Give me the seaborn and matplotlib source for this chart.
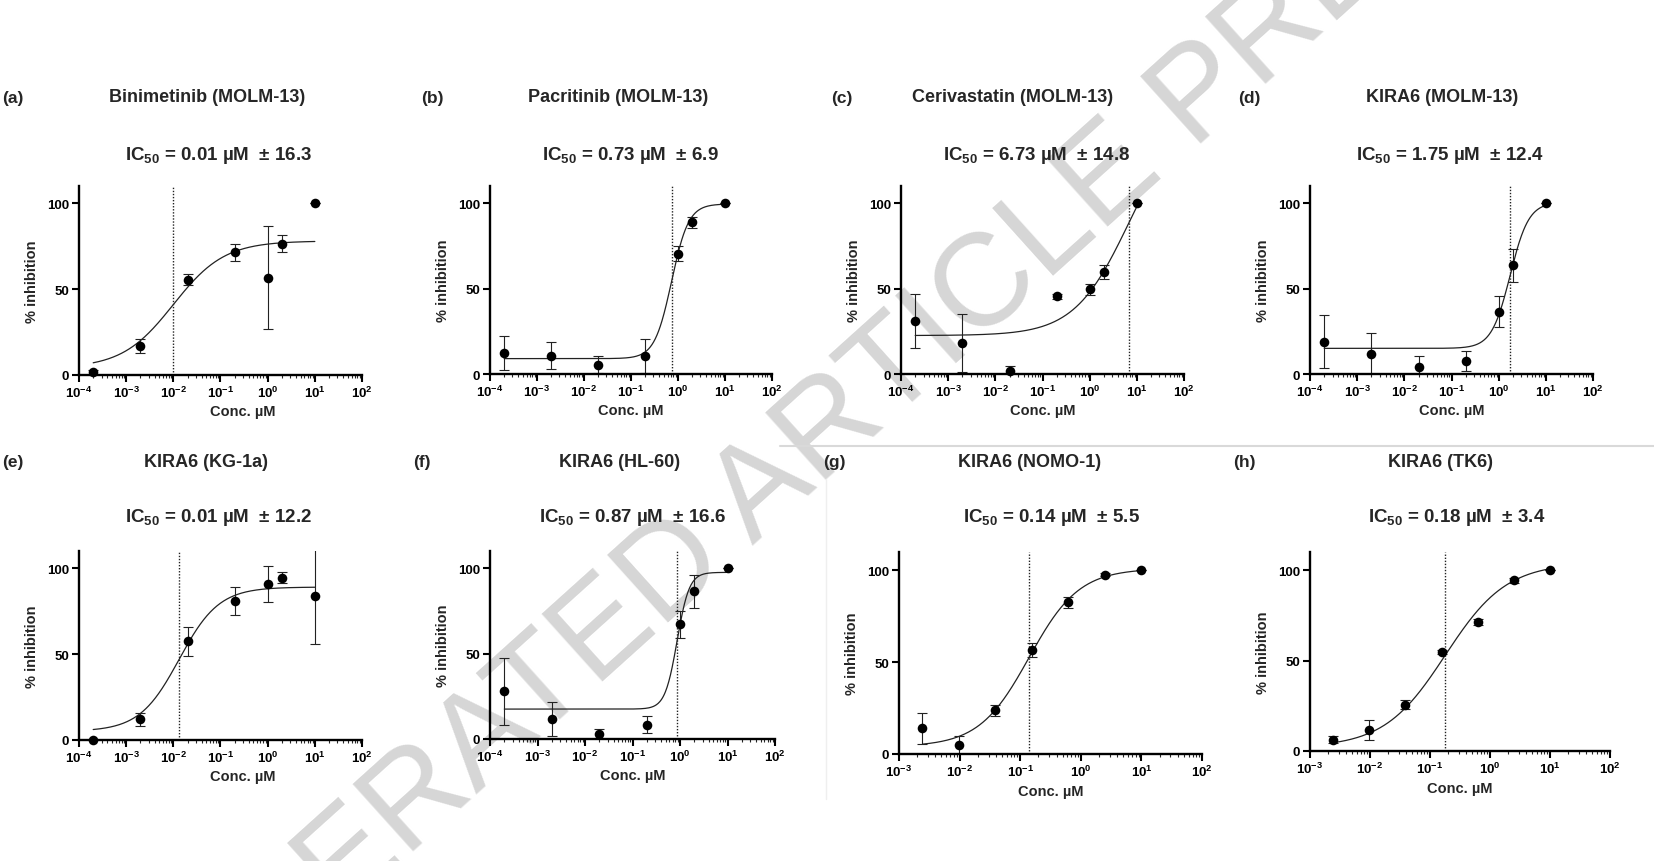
import numpy as np
import pandas as pd
import matplotlib
import matplotlib.pyplot as plt
import seaborn as sns
from matplotlib.lines import Line2D
from matplotlib.ticker import FixedLocator, LogLocator, FuncFormatter, NullFormatter

matplotlib.use('Agg')

# panel texts
panel_tags = ["(a)", "(b)", "(c)", "(d)", "(e)", "(f)", "(g)", "(h)"]
drug_titles = ["Binimetinib (MOLM-13)", "Pacritinib (MOLM-13)", "Cerivastatin (MOLM-13)",
               "KIRA6 (MOLM-13)", "KIRA6 (KG-1a)", "KIRA6 (HL-60)", "KIRA6 (NOMO-1)", "KIRA6 (TK6)"]
ic50_labels = ["0.01", "0.73", "6.73", "1.75", "0.01", "0.87", "0.14", "0.18"]
sd_labels = ["16.3", "6.9", "14.8", "12.4", "12.2", "16.6", "5.5", "3.4"]

# concentrations (uM)
conc_10fold = [2e-4, 2e-3, 2e-2, 0.2, 1, 2, 10]
conc_4fold = [0.00244, 0.0098, 0.039, 0.156, 0.625, 2.5, 10]

# mean % inhibition and error per panel
resp_a = [1.5, 17, 55.5, 71.5, 56.5, 76.5, 100]
err_a = [1.5, 4, 3, 5, 30, 5, 0]
resp_b = [12.3, 10.7, 5.3, 10.7, 70.5, 88.7, 100]
err_b = [10, 8, 5, 10, 4.5, 3, 0]
resp_c = [31, 18, 2, 45.6, 49.5, 59.6, 100]
err_c = [16, 17, 2.5, 1.5, 3, 4, 0]
resp_d = [18.8, 11.6, 3.9, 7.7, 36.5, 63.5, 100]
err_d = [15.5, 12.5, 6.5, 6, 9, 9.5, 0]
resp_e = [0, 12, 57.4, 81, 90.9, 94.5, 83.9]
err_e = [0.5, 3.8, 8.4, 8.3, 10.6, 3, 28]
resp_f = [27.8, 11.7, 2.9, 8.3, 67, 86.4, 100]
err_f = [19.5, 10, 3, 5, 8, 9.5, 0]
resp_g = [13.9, 5, 23.9, 56.4, 82.6, 97.7, 100]
err_g = [8.3, 5, 3, 3.8, 3, 1, 0]
resp_h = [6.2, 11.7, 25.6, 54.8, 71.3, 94.3, 100]
err_h = [2, 5.6, 2.5, 1, 1.5, 1.5, 0]

# fitted 4-parameter logistic curves
fit_bottom = [4, 9, 22.5, 15, 5, 17.5, 4, 2]
fit_top = [78, 99.5, 154, 100.5, 89, 97.5, 101, 104]
fit_ic50 = [0.01, 0.73, 6.73, 1.75, 0.0133, 0.87, 0.14, 0.18]
fit_hill = [0.8, 2.4, 0.75, 2.2, 1.03, 3.4, 1.05, 0.85]

concs = [conc_10fold] * 6 + [conc_4fold] * 2
resps = [resp_a, resp_b, resp_c, resp_d, resp_e, resp_f, resp_g, resp_h]
errs = [err_a, err_b, err_c, err_d, err_e, err_f, err_g, err_h]
x_min = [1e-4] * 6 + [1e-3] * 2

sns.set_theme(style="ticks")
plt.rcParams['font.family'] = ['Liberation Sans', 'DejaVu Sans']
plt.rcParams['mathtext.fontset'] = 'custom'
plt.rcParams['mathtext.rm'] = 'Liberation Sans'
plt.rcParams['mathtext.bf'] = 'Liberation Sans:bold'
plt.rcParams['mathtext.it'] = 'Liberation Sans:italic'

W, H = 1654, 862
fig = plt.figure(figsize=(W / 100, H / 100), dpi=100)
fig.patch.set_facecolor('white')

# axes boxes in pixels: left, bottom(y of x-axis), width, height
boxes = [(79, 376, 283, 189), (490, 375, 282, 188), (901, 375, 283, 188), (1310, 375, 283, 188),
         (79, 741, 283, 189), (490, 740, 285, 188), (899, 755, 303, 202), (1310, 752, 300, 199)]
tag_pos = [(2, 98), (421, 98), (831, 98), (1238, 98), (2, 463), (413, 463), (823, 463), (1233, 463)]
title_pos = [(207, 98), (618, 98), (1013, 98), (1442, 98), (206, 463), (620, 463), (1030, 463), (1441, 463)]
ic50_pos = [(219, 156), (630, 155), (1037, 155), (1450, 155), (219, 518), (633, 517), (1051, 517), (1457, 517)]
xlabel_x = [0.58, 0.5, 0.5, 0.5, 0.58, 0.5, 0.5, 0.5]

fmt_dec = FuncFormatter(lambda v, p: r"$\mathbf{10^{%d}}$" % int(round(np.log10(v))))

for i in range(8):
    l, b, w, h = boxes[i]
    ax = fig.add_axes([l / W, 1 - b / H, w / W, h / H])
    ax.set_facecolor('none')
    ax.set_xscale('log')

    conc = np.array(concs[i])
    df = pd.DataFrame({'conc': conc, 'resp': resps[i], 'err': errs[i]})

    xs = np.logspace(np.log10(conc[0]), np.log10(conc[-1]), 400)
    ys = fit_bottom[i] + (fit_top[i] - fit_bottom[i]) / (1 + 10 ** ((np.log10(fit_ic50[i]) - np.log10(xs)) * fit_hill[i]))
    sns.lineplot(x=xs, y=ys, ax=ax, color='#222222', linewidth=0.9, estimator=None, sort=False)

    ax.errorbar(df['conc'], df['resp'], yerr=df['err'], fmt='none', ecolor='#222222',
                elinewidth=0.8, capsize=3.6, capthick=0.8)
    sns.scatterplot(data=df, x='conc', y='resp', ax=ax, color='black', s=48,
                    linewidth=0, zorder=4, clip_on=False)
    ax.axvline(fit_ic50[i], color='#222222', linestyle=(0, (1, 1.2)), linewidth=1.0)

    ax.set_xlim(x_min[i], 100)
    ax.set_ylim(0, 110)
    decades = [10.0 ** k for k in range(int(np.log10(x_min[i])), 3)]
    ax.xaxis.set_major_locator(FixedLocator(decades))
    ax.xaxis.set_minor_locator(LogLocator(base=10, subs=np.arange(2, 10)))
    ax.xaxis.set_major_formatter(fmt_dec)
    ax.xaxis.set_minor_formatter(NullFormatter())
    ax.set_yticks([0, 50, 100])
    ax.set_yticklabels(['0', '50', '100'], fontweight='bold')

    sns.despine(ax=ax)
    for s in ['left', 'bottom']:
        ax.spines[s].set_linewidth(1.7)
        ax.spines[s].set_color('black')
    ax.tick_params(which='major', length=5, width=1.5, labelsize=9.5, pad=2, colors='black')
    ax.tick_params(which='minor', length=2.5, width=0.8)
    ax.set_xlabel("Conc. µM", fontweight='bold', fontsize=10.5, labelpad=6)
    ax.xaxis.set_label_coords(xlabel_x[i], -0.155 if i < 6 else -0.15)
    ax.set_ylabel("% inhibition", fontweight='bold', fontsize=10.5, labelpad=6)

    tx, ty = tag_pos[i]
    fig.text(tx / W, 1 - ty / H, panel_tags[i], fontsize=12.5, fontweight='bold', ha='left', va='center')
    tx, ty = title_pos[i]
    fig.text(tx / W, 1 - ty / H, drug_titles[i], fontsize=13, fontweight='bold', ha='center', va='center')
    tx, ty = ic50_pos[i]
    fig.text(tx / W, 1 - ty / H, r"$\mathbf{IC_{50}}$ = " + ic50_labels[i] + " µM  ± " + sd_labels[i],
             fontsize=13.5, fontweight='bold', ha='center', va='center')

# faint separator lines from the source layout
fig.add_artist(Line2D([780 / W, 1.0], [1 - 447 / H] * 2, color='#d9d9d9', linewidth=1.5))
fig.add_artist(Line2D([826 / W, 826 / W], [1 - 480 / H, 1 - 800 / H], color='#efefef', linewidth=1.0))

# watermark, drawn behind the panels
fig.text(806 / W, 1 - 452 / H, "ACCELERATED ARTICLE PREVIEW", fontsize=95, color='#d6d6d6',
         rotation=42, ha='center', va='center', rotation_mode='anchor', zorder=-1)

fig.savefig('out.png', dpi=100, facecolor='white')
